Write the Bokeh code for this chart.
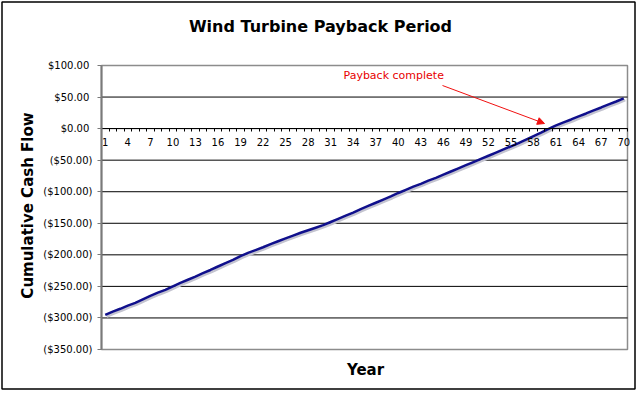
from math import pi
from bokeh.plotting import figure
from bokeh.models import (FixedTicker, Label, Arrow, NormalHead, BoxAnnotation,
                          ColumnDataSource, Range1d)
from bokeh.transform import dodge
from bokeh.embed import file_html
from bokeh.resources import INLINE

# ---- data -------------------------------------------------------------
years = list(range(1, 71))
cash_flow = [
    -295, -290, -285.5, -280.5, -276, -270.5, -265, -260, -255.5, -250,
    -244.5, -239.5, -234.5, -229, -224, -218.5, -213, -208, -202, -197,
    -192.5, -188, -183, -178.5, -174, -169.5, -165, -161, -157, -153,
    -148, -143, -138, -133, -127.5, -122.5, -117.5, -112.5, -107.5, -102,
    -97, -92, -87.5, -82.5, -78, -73, -68, -63, -58, -53,
    -48, -43, -38, -33, -28, -23, -17.5, -12, -6.5, -0.5,
    5, 10, 14.5, 19.5, 24, 29, 33.5, 38.5, 43, 48,
]
x_tick_years = years[::3]
y_ticks = [-350, -300, -250, -200, -150, -100, -50, 0, 50, 100]
y_tick_labels = ["($350.00)", "($300.00)", "($250.00)", "($200.00)", "($150.00)",
                 "($100.00)", "($50.00)", "$0.00\u00a0", "$50.00\u00a0", "$100.00\u00a0"]
grid_values = y_ticks[1:-1]

title_text = "Wind Turbine Payback Period"
y_title = "Cumulative Cash Flow"
x_title = "Year"
note_text = "Payback complete"

# ---- geometry (pixels inside the figure) ---------------------------------
W, H = 638, 392
FL, FR, FT, FB = 101, 627, 65, 349     # plot area
X0, X1 = 0.5, 70.5
Y0, Y1 = -350, 100


def fx(px):
    return X0 + (px - FL) * (X1 - X0) / (FR - FL)


def fy(py):
    return Y1 - (py - FT) * (Y1 - Y0) / (FB - FT)


FONT = "DejaVu Sans"

p = figure(width=W, height=H,
           x_range=Range1d(fx(0), fx(W)), y_range=Range1d(fy(H), fy(0)),
           output_backend="svg", toolbar_location=None,
           min_border=0, min_border_left=0, min_border_right=0,
           min_border_top=0, min_border_bottom=0,
           background_fill_color="white", border_fill_color="white")
p.outline_line_color = None
p.xgrid.visible = False
p.ygrid.visible = False

# horizontal grid lines across the plot area
p.segment(x0=[X0] * len(grid_values), x1=[X1] * len(grid_values),
          y0=grid_values, y1=grid_values, line_color="black", line_width=1)

# plot-area border
p.add_layout(BoxAnnotation(left=X0, right=X1, bottom=Y0, top=Y1, fill_alpha=0,
                           line_color="#8c8c8c", line_width=1.5, line_alpha=1,
                           level="underlay"))

# y axis
p.yaxis.fixed_location = X0
p.yaxis.bounds = (Y0, Y1)
p.yaxis.ticker = FixedTicker(ticks=y_ticks, minor_ticks=[])
p.yaxis.major_label_overrides = {t: l for t, l in zip(y_ticks, y_tick_labels)}
p.yaxis.axis_line_color = "#7a7a7a"
p.yaxis.axis_line_width = 2
p.yaxis.major_tick_line_color = "#7a7a7a"
p.yaxis.major_tick_out = 4
p.yaxis.major_tick_in = 0
p.yaxis.major_label_standoff = 5
p.yaxis.major_label_text_font = FONT
p.yaxis.major_label_text_font_size = "10px"
p.yaxis.major_label_text_color = "black"

# x axis crossing at zero
p.xaxis.fixed_location = 0
p.xaxis.bounds = (X0, X1)
p.xaxis.ticker = FixedTicker(ticks=x_tick_years,
                             minor_ticks=[y - 0.5 for y in years] + [years[-1] + 0.5])
p.xaxis.axis_line_color = "black"
p.xaxis.axis_line_width = 1
p.xaxis.major_tick_line_color = None
p.xaxis.major_tick_out = 3
p.xaxis.major_tick_in = 0
p.xaxis.minor_tick_line_color = "black"
p.xaxis.minor_tick_out = 3
p.xaxis.minor_tick_in = 0
p.xaxis.major_label_standoff = 6
p.xaxis.major_label_text_font = FONT
p.xaxis.major_label_text_font_size = "10px"
p.xaxis.major_label_text_color = "black"

# series
src = ColumnDataSource(dict(year=years, cash=cash_flow))
p.line(x=dodge("year", 0.2), y=dodge("cash", -2.8), source=src,
       line_color="#c4c4d0", line_width=2.5)
p.line(x="year", y="cash", source=src, line_color="#10108c", line_width=2.5)

# annotation
p.add_layout(Arrow(end=NormalHead(size=7, fill_color="#f01010", line_color="#f01010"),
                   x_start=fx(442), y_start=fy(85), x_end=fx(544), y_end=fy(123),
                   line_color="#f01010", line_width=1))
p.add_layout(Label(x=fx(343), y=fy(74.5), text=note_text, text_color="#e80000",
                   text_font=FONT, text_font_size="11px",
                   text_align="left", text_baseline="middle"))

# titles
p.add_layout(Label(x=fx(320), y=fy(26), text=title_text, text_font=FONT,
                   text_color="black",
                   text_font_size="16px", text_font_style="bold",
                   text_align="center", text_baseline="middle"))
p.add_layout(Label(x=fx(27), y=fy(205), text=y_title, angle=pi / 2, text_font=FONT,
                   text_color="black",
                   text_font_size="15px", text_font_style="bold",
                   text_align="center", text_baseline="middle"))
p.add_layout(Label(x=fx(365), y=fy(369), text=x_title, text_font=FONT,
                   text_color="black",
                   text_font_size="15px", text_font_style="bold",
                   text_align="center", text_baseline="middle"))

# outer chart border
p.add_layout(BoxAnnotation(left=fx(1.5), right=fx(634.5), top=fy(1.5), bottom=fy(388.5),
                           fill_alpha=0, line_color="black", line_width=1.5,
                           line_alpha=1))

open("out.html", "w").write(file_html(p, INLINE))
